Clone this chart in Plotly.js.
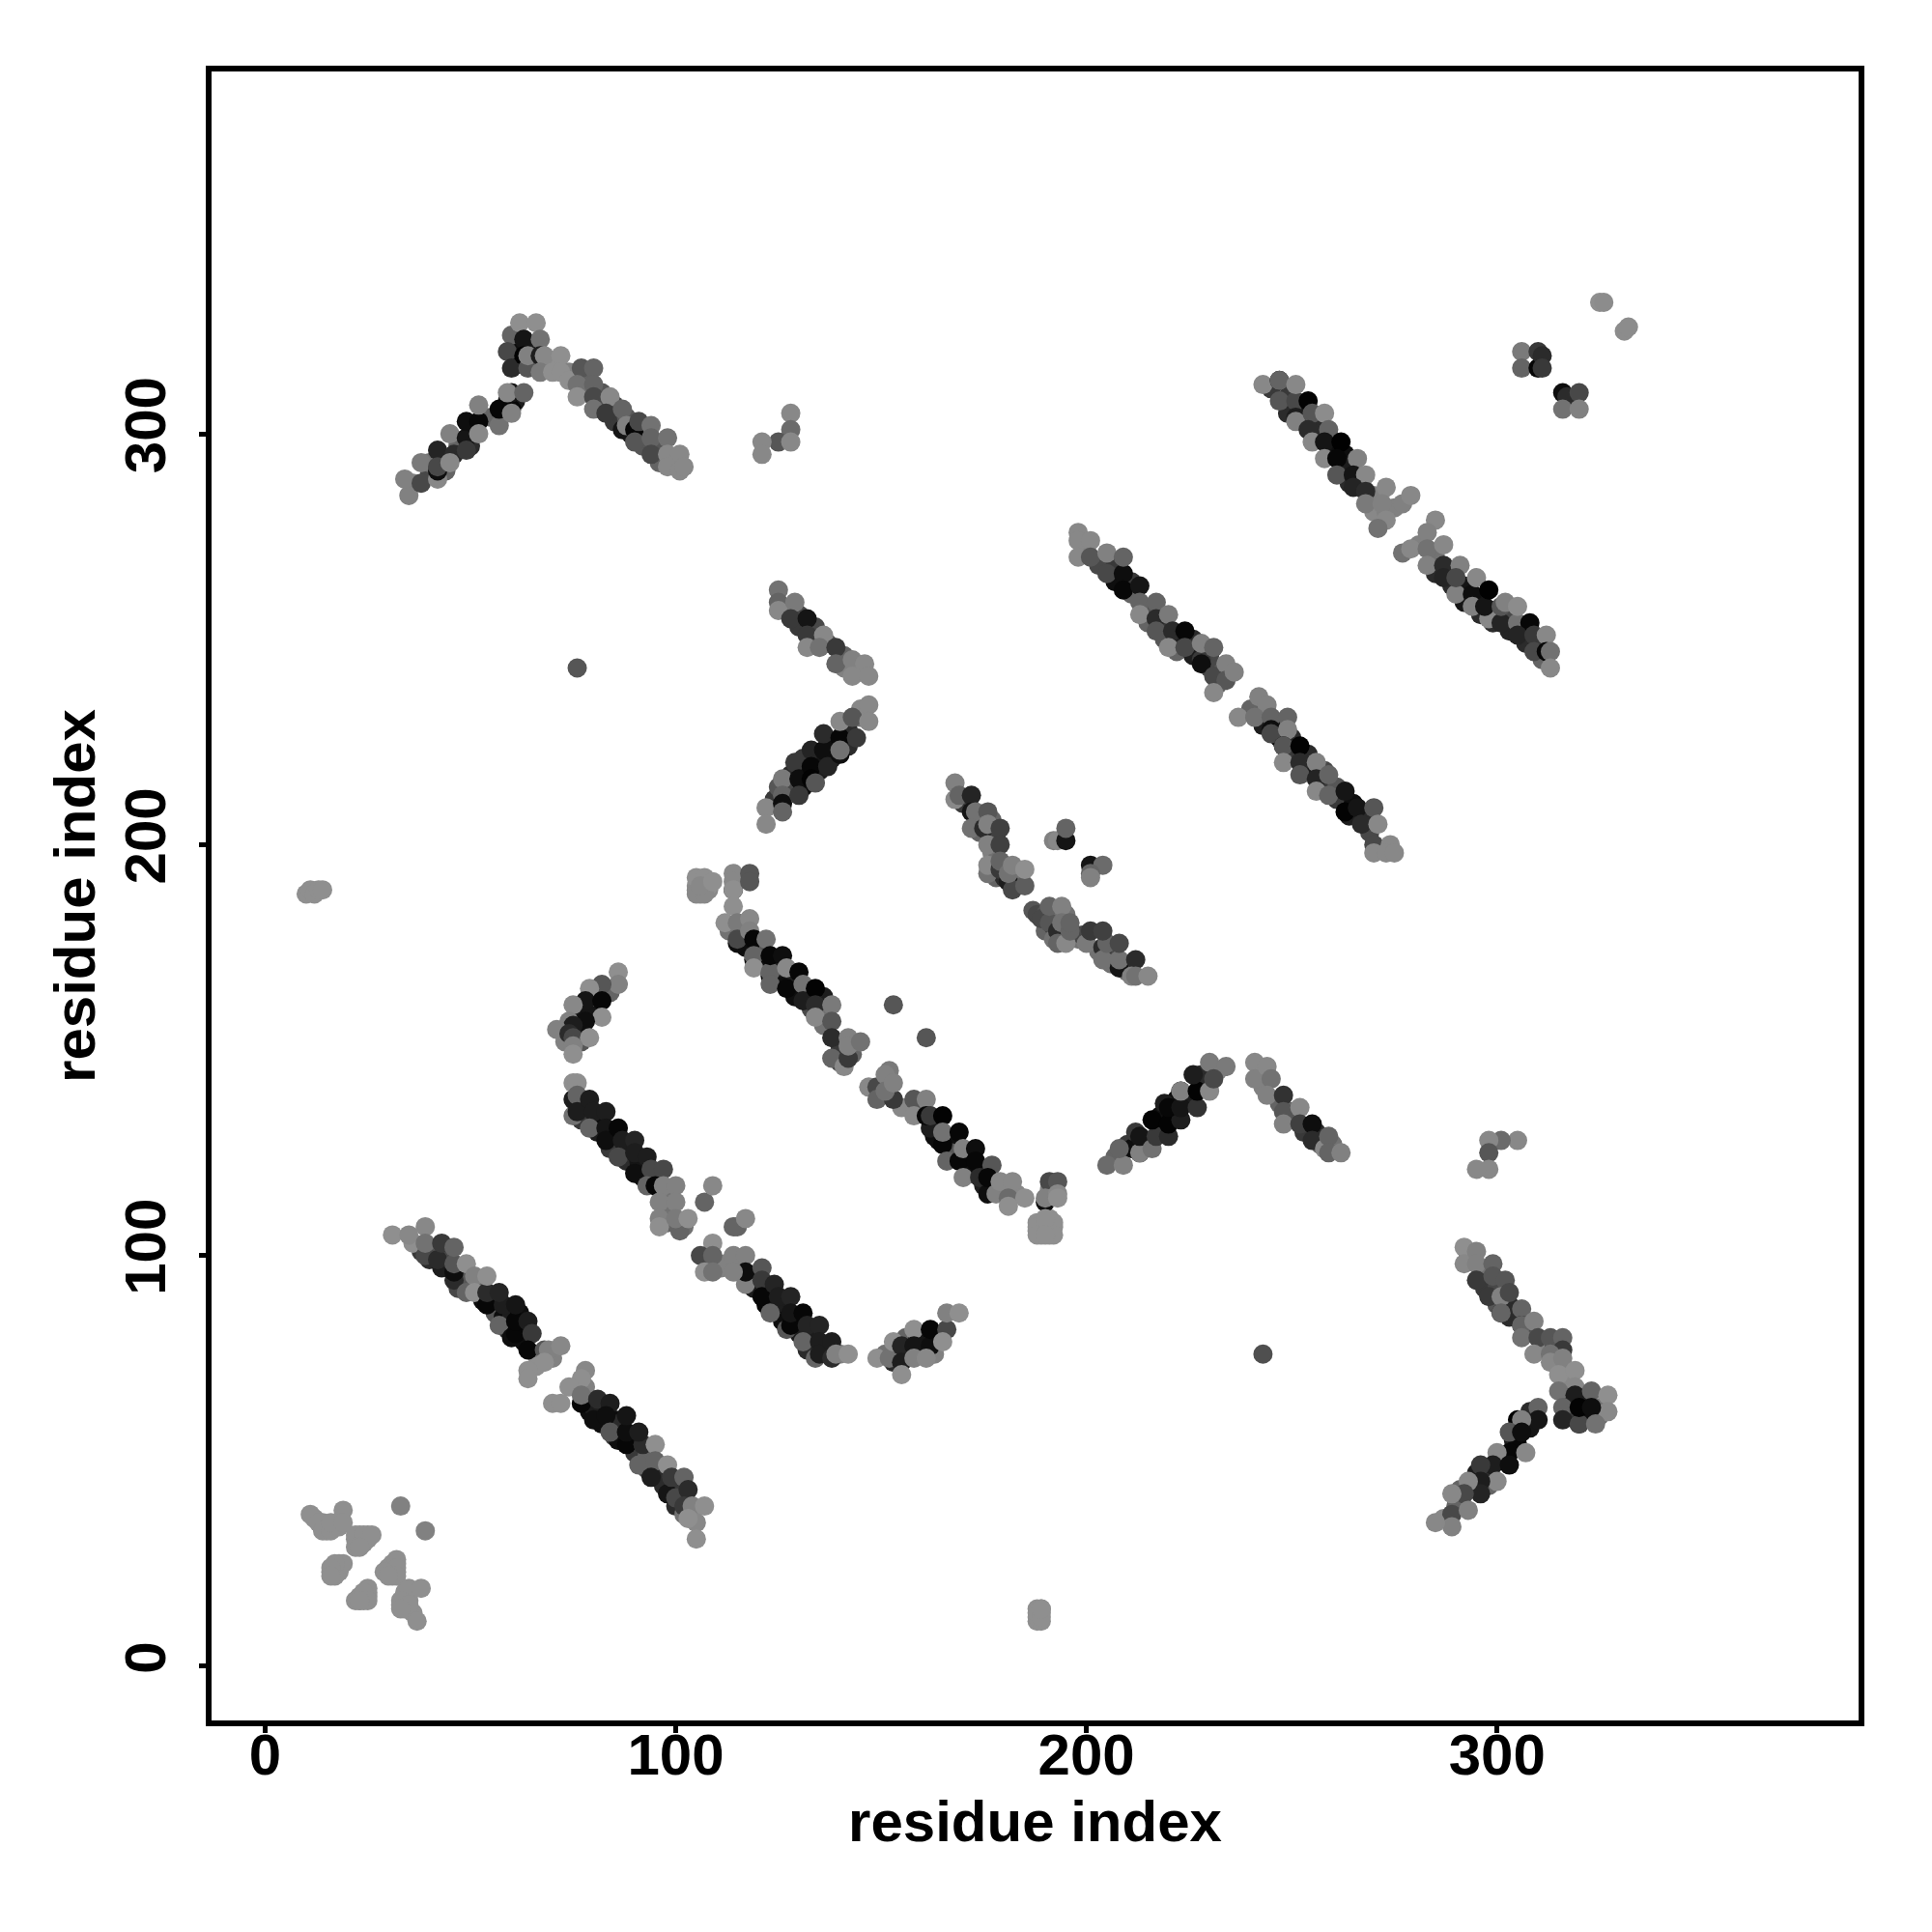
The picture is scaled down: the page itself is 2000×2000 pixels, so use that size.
<!DOCTYPE html>
<html><head><meta charset="utf-8">
<script src="https://cdn.plot.ly/plotly-3.0.1.min.js"></script>
<style>html,body{margin:0;padding:0;background:#fff}</style></head>
<body><div id="chart" style="width:2000px;height:2000px"></div>
<script>
// each contact: [residue x, residue y, strength 0..1]
const cornerCluster=[[23,32,0],[25,32,0],[23,31,0],[24,31,0],[25,31,0],[23,30,0],[24,30,0],[22,31,0],[18,25,0],[18,24,0],[17,24,0],[17,23,0],[16,23,0],[18,23,0],[17,22,0],[32,25,0],[31,24,0],[31,23,0],[30,23,0],[31,22,0],[32,23,0],[30,24,0],[31,25,0],[24,17,0],[24,18,0],[23,17,0],[25,17,0],[23,16,0],[24,16,0],[25,18,0],[34,18,0],[34,16,0],[34,15,0],[35,16,0],[33,15,0],[36,13,0],[35,14,0],[34,14,0],[12,36,0],[14,35,0],[15,34,0],[15,33,0],[17,34,0],[18,35,0],[18,34,0],[11,37,0],[19,38,0],[13,35,0],[14,33,0],[16,33,0],[16,35,0],[19,35,0],[22,32,0],[24,32,0],[26,32,0],[22,29,0],[23,29,0],[19,25,0],[17,25,0],[16,24,0],[16,22,0],[32,26,0],[32,24,0],[32,22,0],[29,23,0],[30,22,0],[25,19,0],[24,18,0],[22,16,0],[25,16,0],[23,16,0],[35,19,0],[38,19,0],[33,16,0],[35,15,0],[33,14,0],[37,11,0],[33,39,.1],[39,33,.1]];
const bandAUnder=[[38,101,.6],[40,99,.7],[41,101,.4],[43,97,.8],[44,100,.5],[47,92,.5],[48,94,.4],[52,93,.3],[53,89,.9],[55,89,.9],[56,86,.4],[56,89,.8],[58,85,.9],[59,82,.7],[59,84,.95],[60,86,.8],[62,86,.9],[62,82,.9],[63,79,.9],[63,82,.8],[66,76,.2],[70,75,.1],[66,73,0],[76,68,.1],[78,68,.1],[79,62,.9],[80,63,.8],[82,63,.8],[82,59,.9],[85,60,.9],[85,56,.6],[86,59,.7],[86,55,.9],[89,55,.9],[90,52,.6],[93,51,.3],[93,48,.5],[96,47,.7],[97,44,.7],[100,44,.6],[101,43,.6],[100,39,.7],[102,37,.2],[104,36,.1]];
const bandA=[[31,105,0],[36,103,0],[35,105,.05],[39,100,.5],[39,107,.05],[39,103,.2],[42,99,.7],[43,103,.6],[46,94,.7],[46,96,.9],[46,98,.4],[46,102,.3],[49,98,0],[49,91,.3],[51,95,.1],[51,91,0],[54,88,.95],[54,91,.7],[54,95,0],[58,88,.8],[57,91,.75],[57,83,.3],[60,80,.9],[61,81,.95],[61,84,.95],[61,88,.85],[64,84,.8],[65,81,.6],[64,77,.95],[68,77,.4],[69,77,.1],[72,78,.05],[68,74,0],[64,72,0],[64,70,0],[78,72,.05],[77,70,0],[74,68,0],[77,64,.95],[77,66,.2],[70,64,0],[72,64,0],[80,60,.9],[81,65,.7],[84,64,.8],[83,61,.9],[84,57,.4],[88,54,.95],[88,57,.9],[88,61,.85],[92,54,.7],[91,57,.8],[95,54,0],[91,49,.3],[95,50,.3],[94,46,.8],[98,49,0],[98,42,.85],[100,41,.5],[99,46,.6],[102,46,.3],[103,43,.7],[102,39,.6],[104,39,.1],[107,39,0],[105,35,.05],[103,36,0],[105,31,0]];
const clumpBUnder=[[73,155,.4],[76,159,.5],[77,155,.9],[77,159,.85],[80,160,.85],[73,152,.1],[77,152,.4],[80,163,.3],[84,164,.3]];
const clumpB=[[86,169,0],[86,166,.1],[82,166,.4],[79,165,0],[78,162,.85],[82,162,.95],[75,161,.05],[82,158,0],[78,157,.9],[74,157,.1],[75,156,.8],[71,155,.1],[74,154,.7],[75,153,.5],[79,153,0],[75,151,.1],[75,149,0]];
const bandB1Under=[[76,136,.8],[78,135,.8],[77,133,.6],[81,133,.9],[81,130,.8],[84,129,.9],[85,127,.8],[84,126,.6],[88,126,.8],[88,123,.7],[91,123,.85],[92,119,.9],[94,118,.8],[95,119,.5],[98,115,.2],[98,111,.2],[98,108,.3],[102,107,.2]];
const bandB1=[[75,134,.2],[75,138,.8],[75,142,0],[76,142,0],[76,139,.3],[76,135,.8],[79,138,.8],[80,135,.8],[83,135,.8],[79,131,.3],[83,131,.85],[83,128,.9],[86,131,.95],[87,128,.8],[90,128,.75],[86,124,.5],[90,125,.8],[93,124,.8],[90,120,.9],[94,121,.5],[97,121,.5],[93,117,.3],[95,117,.95],[97,117,.1],[100,117,.1],[96,113,.1],[100,113,.1],[96,109,.1],[96,107,0],[101,106,.3],[100,109,.15],[103,109,0],[107,113,.3],[109,117,.05],[114,107,.3],[115,107,.3],[117,109,.05]];
const bandB2Under=[[108,98,.4],[111,97,.1],[112,98,.1],[115,98,.1],[119,92,.8],[118,94,.9],[122,92,.7],[122,88,.95],[124,88,.85],[126,88,.8],[126,84,.9],[129,84,.9],[130,81,.8],[133,81,.8],[132,77,.7],[136,77,.8],[137,77,.7],[140,76,.1]];
const bandB2=[[109,103,0],[106,100,.5],[109,100,.3],[107,96,0],[109,96,.2],[117,93,.1],[114,100,.1],[117,100,.1],[117,96,.9],[114,96,.1],[121,97,.4],[121,94,.6],[121,90,.95],[124,93,.75],[125,90,.8],[128,90,.75],[123,86,.3],[127,82,.4],[128,83,.95],[128,86,.85],[131,86,.95],[132,83,.75],[135,83,.75],[131,79,.3],[134,75,.3],[135,79,.8],[135,76,.8],[138,79,.8],[138,75,.7],[139,76,.1],[142,76,0]];
const clumpCUnder=[[151,76,.2],[153,74,.7],[154,76,.9],[156,80,.3],[157,76,.85],[159,80,.85],[160,76,.8],[163,80,.8],[163,76,.1]];
const clumpC=[[149,75,0],[152,75,.2],[153,79,0],[155,78,.75],[155,74,.8],[155,71,0],[158,82,0],[158,78,.85],[158,75,.1],[162,78,.9],[162,82,.95],[161,75,.05],[166,82,.5],[165,79,0],[166,86,.1],[169,86,0]];
const blobC=[[105,190,0],[106,191,0],[107,190,.05],[108,189,.05],[106,188,.05],[108,191,0],[105,189,.05],[107,189,.2],[108,190,0]];
const bandCUnder=[[113,179,.2],[116,178,.5],[117,175,.9],[120,174,.9],[121,171,.9],[121,175,.4],[124,171,.9],[125,167,.9],[125,170,.8],[128,167,.9],[129,163,.9],[129,168,.8],[132,163,.9],[133,160,.5],[136,163,.8],[136,159,.2],[136,156,.2],[140,151,.5],[140,150,.6],[140,147,.5],[143,149,.3]];
const bandC=[[105,192,0],[107,192,0],[105,188,.05],[107,188,.05],[106,190,.05],[109,191,0],[114,189,.9],[114,193,.05],[114,191,.05],[114,189,0],[118,193,.4],[118,191,.4],[114,185,0],[112,181,0],[115,181,.15],[118,182,.05],[115,176,.9],[115,177,.5],[118,179,.1],[119,177,.95],[122,177,.2],[119,172,.9],[119,173,.3],[119,170,0],[123,168,.9],[123,169,.3],[123,173,.95],[126,173,.9],[123,166,.3],[127,165,.95],[127,170,.05],[130,169,.95],[131,166,.2],[131,162,.8],[134,165,.98],[134,161,.7],[138,161,.15],[134,158,.05],[138,157,.4],[138,153,.7],[138,148,.3],[141,146,.05],[142,148,.6],[142,153,.1],[142,151,.1],[145,152,.2]];
const bandC2Under=[[150,139,.4],[155,136,.05],[160,136,.3],[163,132,.9],[163,129,.9],[164,128,.9],[167,128,.9],[168,125,.9],[167,125,.4],[171,125,.85],[171,121,.95],[172,120,.9],[175,120,.9],[175,117,.8],[178,117,.1],[180,116,.1],[183,115,.05],[191,116,.1],[189,108,0],[191,107,0],[189,106,.05],[190,107,.2],[191,105,0],[189,105,0],[191,109,0],[192,107,0],[188,106,0],[188,108,0],[190,106,.1]];
const bandC2=[[147,141,.05],[149,141,.5],[149,138,.3],[152,145,.15],[151,144,.1],[153,138,.6],[151,140,.2],[153,142,.1],[158,138,.4],[161,138,.1],[158,134,.05],[162,131,.8],[161,134,.95],[162,134,.6],[165,134,.98],[165,127,.95],[165,130,.2],[169,130,.95],[166,123,.3],[169,123,.95],[170,126,.1],[173,126,.9],[173,123,.95],[177,122,.4],[170,119,.1],[174,119,.7],[176,115,.9],[176,119,.95],[178,115,.1],[179,118,.05],[182,118,.05],[181,114,.25],[181,112,0],[185,114,0],[191,118,.5],[193,118,.4],[190,113,.9],[190,114,.1],[193,115,.05],[193,114,0],[188,107,0],[192,108,0],[188,105,0],[192,105,0],[190,109,0],[190,105,0]];
const isolated=[[153,161,.4],[161,153,.4],[76,243,.4],[243,76,.45],[188,11,0],[188,12,0],[189,13,0],[188,14,0],[189,11,0],[189,14,0],[188,13,0],[189,12,0],[189,14,0],[10,188,0],[11,189,0],[12,188,0],[13,189,0],[14,189,0],[192,201,.1],[193,201,.05],[195,201,.85],[195,204,.3],[201,195,.85],[204,195,.25],[201,193,.3],[201,192,.1]];
const bandGUnder=[[170,210,.6],[174,206,.6],[174,203,.3],[177,206,.3],[178,202,.55],[177,198,.1],[178,196,.2],[178,192,.3],[180,192,.7],[180,195,.4],[183,192,.6],[183,190,.7],[184,192,.2],[187,184,.4],[188,183,.5],[190,183,.4],[190,179,.3],[192,183,.3],[192,180,.6],[193,183,.2],[195,183,.2],[192,177,.2],[198,177,.2],[199,178,.5],[203,174,.2],[206,174,.5],[206,171,.2],[210,171,.7],[210,169,.2]];
const bandG=[[168,215,.1],[168,211,.05],[169,212,.3],[172,212,.75],[172,208,.85],[173,208,.2],[172,204,.2],[176,208,.4],[175,204,.7],[176,205,.1],[176,200,.1],[179,204,.55],[179,200,.55],[176,193,.2],[176,195,.05],[179,194,.6],[179,196,.3],[181,191,.8],[182,189,.5],[181,193,.2],[182,195,.1],[185,190,.35],[185,194,0],[189,182,.5],[191,181,.4],[193,179,.7],[191,185,.3],[194,185,.1],[194,181,.2],[193,176,.3],[195,176,.05],[196,179,.3],[196,181,.3],[200,176,.15],[201,179,.6],[204,175,.7],[204,172,.2],[205,176,.3],[204,179,.55],[208,170,.85],[208,172,.2],[208,176,.5],[212,172,.7],[211,168,.1],[212,168,.2],[215,168,.05]];
const chevronLowUnder=[[207,124,.3],[210,127,.6],[211,126,.9],[214,128,.9],[215,128,.7],[218,131,.9],[218,134,.9],[221,134,.9],[222,138,.9],[224,138,.9],[225,138,.8],[228,141,.9],[228,144,.7],[232,145,.1]];
const chevronLow=[[205,122,.25],[209,122,.1],[208,126,.3],[212,130,.6],[213,125,.98],[213,125,.1],[213,129,.85],[216,126,.2],[217,129,.6],[220,129,.7],[216,133,.98],[220,132,.98],[223,133,.8],[219,137,.8],[220,136,.95],[223,136,.85],[227,136,.65],[223,140,.98],[223,140,.1],[227,140,.98],[230,140,.05],[226,144,.8],[230,147,.15],[234,146,.15],[231,143,.5]];
const chevronHighUnder=[[243,141,.1],[247,137,.3],[250,135,.3],[250,133,.4],[253,130,.6],[256,130,.7],[257,127,.3],[260,127,.2]];
const chevronHigh=[[241,147,.05],[241,143,.1],[244,146,.05],[245,143,.2],[244,139,.1],[248,139,.65],[248,135,.4],[252,136,.05],[248,132,.1],[252,132,.55],[255,132,.9],[255,128,.7],[258,126,.05],[259,129,.3],[259,125,.3],[262,125,.1]];
const mirrorHighUnder=[[127,257,.2],[130,256,.5],[130,253,.6],[134,250,.4],[134,253,.5],[137,249,.4],[141,246,.3],[141,243,.1],[145,242,.05]];
const mirrorHigh=[[125,262,.2],[125,259,.3],[125,257,.05],[129,259,.15],[128,255,.6],[132,255,.85],[132,251,.6],[132,248,.05],[136,251,.05],[135,248,.2],[139,248,.6],[139,244,.3],[143,245,.1],[146,244,.05],[143,241,.05],[147,241,.05]];
const mirrorLowUnder=[[124,211,.6],[125,214,.4],[128,213,.5],[128,217,.7],[131,214,.9],[131,217,.9],[131,221,.6],[135,218,.8],[135,222,.85],[138,221,.8],[138,225,.9],[141,228,.6],[142,224,.7],[142,228,.7],[145,231,.2],[145,233,.05]];
const mirrorLow=[[122,209,.05],[122,205,.05],[126,216,.15],[126,212,.3],[126,210,.9],[126,208,.3],[129,220,.6],[130,216,.9],[130,212,.6],[133,223,.75],[133,219,.95],[133,216,.98],[134,215,.4],[136,223,.9],[137,219,.75],[136,227,.7],[140,226,.95],[140,222,.9],[140,223,.2],[140,230,.05],[144,226,.6],[143,231,.4],[147,234,.05],[147,230,.05]];
const armUpperLeftUnder=[[36,288,.1],[40,290,.5],[40,293,.2],[44,294,.6],[44,291,.3],[47,297,.5],[47,298,.3],[50,297,.7],[51,301,.7],[55,304,.3],[59,306,.7],[59,308,.85],[61,308,.8]];
const armUpperLeft=[[35,285,.1],[34,289,.1],[38,293,.15],[38,288,.5],[42,289,.05],[42,296,.75],[42,291,.9],[42,292,.5],[45,300,.1],[46,295,.7],[45,293,.05],[49,299,.85],[49,296,.6],[49,303,.9],[52,303,.95],[52,300,.05],[52,307,.1],[57,302,.2],[57,306,.95],[60,306,.95],[60,305,.1],[60,310,.85],[59,310,.05],[63,310,.3]];
const peakUnder=[[61,322,.5],[61,317,.7],[62,317,.9],[65,321,.8],[65,317,.5],[69,317,.1],[71,317,0],[74,315,.1],[78,314,.3],[78,310,.2],[82,310,.4],[82,306,.4],[85,307,.5],[85,303,.6],[88,304,.4],[89,300,.8],[92,300,.5],[92,297,.4],[96,296,.4],[96,293,.3],[99,294,.1],[100,293,.05]];
const peakUpperLeft=[[60,320,.9],[60,324,.3],[59,320,.5],[60,316,.7],[62,327,0],[66,327,0],[63,323,.85],[63,319,.98],[64,316,.4],[64,319,.1],[67,323,.2],[67,319,.8],[68,319,.05],[67,315,.15],[70,315,0],[72,319,0],[72,315,0],[74,313,0],[77,316,.4],[76,312,.2],[80,316,.3],[80,312,.3],[76,309,0],[80,309,.5],[80,306,.2],[84,309,.05],[83,305,.6],[87,301,.85],[87,306,.3],[88,302,.1],[90,301,.95],[91,303,.5],[90,298,.4],[94,302,.2],[94,299,.3],[98,299,.2],[94,295,.5],[98,295,.05],[101,295,.05],[98,292,.05],[101,291,.05],[102,292,.05]];
const smallTop=[[128,305,.05],[128,301,.25],[125,298,.4],[128,298,.05],[121,298,.05],[121,295,.05]];
const smallRight=[[305,128,.05],[301,128,.25],[298,128,.05],[298,125,.4],[298,121,.05],[295,121,.05]];
const armLowerRightUnder=[[293,100,.1],[297,96,.2],[297,92,.6],[300,92,.5],[300,88,.4],[303,88,.7],[303,85,.7],[304,86,.7],[308,82,.5],[307,81,.4],[311,78,.1],[314,78,.5],[314,74,.1],[316,72,.05],[317,69,.05],[318,66,.6],[318,61,.6],[321,61,.95],[322,61,.9],[321,65,.8],[325,63,.2],[325,61,.2],[317,65,.5]];
const armLowerRight=[[292,102,0],[292,98,.05],[295,101,.1],[295,98,.1],[295,94,.6],[299,98,.3],[299,95,.4],[302,94,.4],[298,90,.6],[301,86,.9],[301,90,.1],[303,91,.5],[301,86,.3],[306,87,.3],[306,83,.8],[306,83,.3],[309,84,.1],[306,80,.2],[310,80,.5],[313,80,.4],[316,80,.3],[309,76,.05],[316,77,.6],[313,76,.2],[313,74,.05],[316,75,.1],[315,71,0],[319,72,0],[319,68,.05],[315,67,.2],[319,66,.8],[323,67,.3],[327,66,0],[327,62,.05],[316,63,.3],[316,60,.75],[320,59,.9],[320,59,.5],[320,63,.98],[323,63,.9],[324,59,.2]];
const armLowerMidUnder=[[308,62,.7],[308,58,.85],[304,55,.8],[305,54,.95],[302,51,.8],[301,50,.95],[298,47,.7],[298,44,.3],[295,47,.8],[294,44,.5],[291,43,.3],[291,40,.4],[290,39,.3],[287,36,.05]];
const armLowerMid=[[310,63,.3],[310,60,.85],[305,60,.98],[306,60,.1],[303,57,.4],[306,57,.9],[303,52,.95],[300,52,.05],[307,52,.05],[299,49,.8],[303,49,.9],[296,49,.6],[300,45,.05],[296,45,.8],[296,42,.75],[293,45,.05],[292,42,.5],[289,42,.05],[289,37,.5],[293,38,.1],[289,34,.1],[285,35,.05]];
const bandEUnder=[[200,272,.1],[203,268,.5],[207,268,.6],[207,264,.9],[211,264,.6],[211,261,.3],[215,257,.4],[215,254,.3],[219,254,.6],[219,250,.4],[222,250,.8],[222,247,.3],[226,250,.7],[226,246,.8],[230,246,.5],[230,243,.5],[233,242,.4],[232,239,.3]];
const bandE=[[198,276,.05],[198,274,.05],[198,270,.05],[201,274,.05],[201,270,.4],[205,266,.5],[205,271,.1],[209,266,.9],[209,270,.3],[209,262,.95],[213,263,.85],[213,259,.3],[217,259,.3],[213,256,.05],[217,255,.7],[220,256,.15],[217,252,.4],[221,252,.7],[220,248,.05],[224,252,.95],[224,248,.5],[228,245,.6],[228,249,.1],[231,248,.3],[228,244,.9],[231,241,.5],[234,244,.1],[234,240,.4],[236,242,.1],[231,237,.05]];
const bandE2Under=[[243,232,.4],[243,229,.8],[246,229,.8],[247,226,.9],[250,226,.7],[250,222,.6],[254,222,.7],[254,218,.8],[258,215,.6],[258,218,.5],[261,214,.4],[261,211,.6],[265,210,.9],[264,207,.8],[268,207,.7],[269,203,.5],[272,199,.05]];
const bandE2=[[240,233,.3],[242,236,.1],[244,234,.1],[237,231,.05],[241,231,.2],[245,231,.3],[245,228,.9],[245,227,.5],[249,231,.3],[249,228,.1],[248,224,.9],[248,224,.4],[252,224,.98],[248,220,.05],[252,220,.7],[252,217,.4],[256,220,.1],[256,216,.75],[259,217,.3],[256,213,.05],[259,212,.3],[263,208,.98],[263,213,.85],[266,209,.85],[270,209,.4],[267,205,.7],[271,205,.05],[270,200,.5],[274,200,.05],[270,198,.05],[273,198,.05],[275,198,.05]];
const bandFUnder=[[245,311,.6],[249,309,.6],[249,305,.7],[252,306,.8],[253,303,.8],[256,303,.7],[256,299,.8],[257,301,.7],[260,296,.8],[259,295,.9],[263,295,.9],[263,292,.8],[264,288,.7],[267,288,.7],[270,285,.1],[270,281,.05],[275,282,.1],[273,281,.1]];
const bandF=[[243,312,.05],[247,313,.95],[247,313,.3],[247,308,.4],[251,308,.5],[251,312,.05],[254,308,.98],[251,304,.8],[251,303,.1],[255,305,.4],[258,305,.02],[254,301,.7],[259,301,.3],[255,298,.05],[258,298,.85],[258,294,.05],[262,298,.99],[261,294,.95],[266,294,.1],[261,290,.4],[265,290,.85],[268,290,.05],[265,287,.75],[268,286,.7],[268,283,.15],[273,287,.05],[272,283,.1],[277,283,.1],[279,285,.05],[273,279,.05],[271,277,.2]];
const bandF2Under=[[281,273,.1],[285,270,.2],[285,266,.7],[289,266,.8],[289,263,.7],[292,263,.85],[292,259,.85],[296,260,.8],[296,256,.7],[299,257,.7],[299,254,.7],[303,256,.5],[303,252,.75],[306,252,.8],[307,249,.7],[311,249,.6],[311,245,.3]];
const bandF2=[[277,271,.2],[279,272,.05],[285,279,.05],[283,276,.1],[283,272,.2],[287,273,.05],[283,268,.1],[287,268,.7],[287,265,.75],[291,268,.1],[290,261,.1],[290,265,.5],[294,261,.9],[295,265,.05],[294,258,.1],[298,255,.05],[297,258,.85],[298,262,.99],[301,254,.75],[301,258,.4],[302,259,.1],[305,254,.2],[305,258,.02],[308,254,.95],[305,251,.75],[309,251,.6],[309,247,.5],[312,251,.05],[312,247,.95],[313,247,.2],[313,243,.05]];
const topRight=[[325,332,0],[326,332,.02],[331,325,.02],[332,326,.02],[306,320,.15],[306,316,.3],[310,320,.6],[310,316,.95],[311,319,.7],[311,316,.6],[316,310,.9],[317,309,.7],[320,310,.5],[316,306,.2],[320,306,.1]];
const xTickVals=[0,100,200,300];
const yTickVals=[0,100,200,300];
const axisLabel="residue index";

const contacts=[].concat(cornerCluster,bandAUnder,bandA,clumpBUnder,clumpB,bandB1Under,bandB1,bandB2Under,bandB2,clumpCUnder,clumpC,blobC,bandCUnder,bandC,bandC2Under,bandC2,isolated,bandGUnder,bandG,chevronLowUnder,chevronLow,chevronHighUnder,chevronHigh,mirrorHighUnder,mirrorHigh,mirrorLowUnder,mirrorLow,armUpperLeftUnder,armUpperLeft,peakUnder,peakUpperLeft,smallTop,smallRight,armLowerRightUnder,armLowerRight,armLowerMidUnder,armLowerMid,bandEUnder,bandE,bandE2Under,bandE2,bandFUnder,bandF,bandF2Under,bandF2,topRight);
const F={family:'"Liberation Sans",Arial,sans-serif',size:60,color:'#000'};
const frame={showline:true,mirror:true,linecolor:'#000',linewidth:6,showgrid:false,zeroline:false,ticks:'outside',ticklen:7,tickwidth:5,tickcolor:'#000',tickfont:F};
Plotly.newPlot('chart',[{type:'scatter',mode:'markers',x:contacts.map(c=>c[0]),y:contacts.map(c=>c[1]),
 marker:{size:20,color:contacts.map(c=>c[2]),cmin:0,cmax:1,colorscale:[[0,'#8f8f8f'],[1,'#000000']],showscale:false,line:{width:0}},hoverinfo:'skip'}],
{width:2000,height:2000,paper_bgcolor:'#fff',plot_bgcolor:'#fff',showlegend:false,
 margin:{l:219,r:75.5,t:74,b:219,pad:0},
 font:F,
 xaxis:Object.assign({},frame,{range:[-13.05,388.05],tickmode:'array',tickvals:xTickVals,ticktext:xTickVals.map(String),ticklabelstandoff:-29,title:{text:'<b>'+axisLabel+'</b>',font:F,standoff:17}}),
 yaxis:Object.assign({},frame,{range:[-13.17,388.2],tickmode:'array',tickvals:yTickVals,ticktext:yTickVals.map(String),tickangle:-90,ticklabelstandoff:11,title:{text:'<b>'+axisLabel+'</b>',font:F,standoff:1}})
},{staticPlot:true,displayModeBar:false}).then(()=>{
 document.querySelectorAll('.xtick text,.ytick text').forEach(t=>{t.style.fontWeight='bold';});
});
</script></body></html>
